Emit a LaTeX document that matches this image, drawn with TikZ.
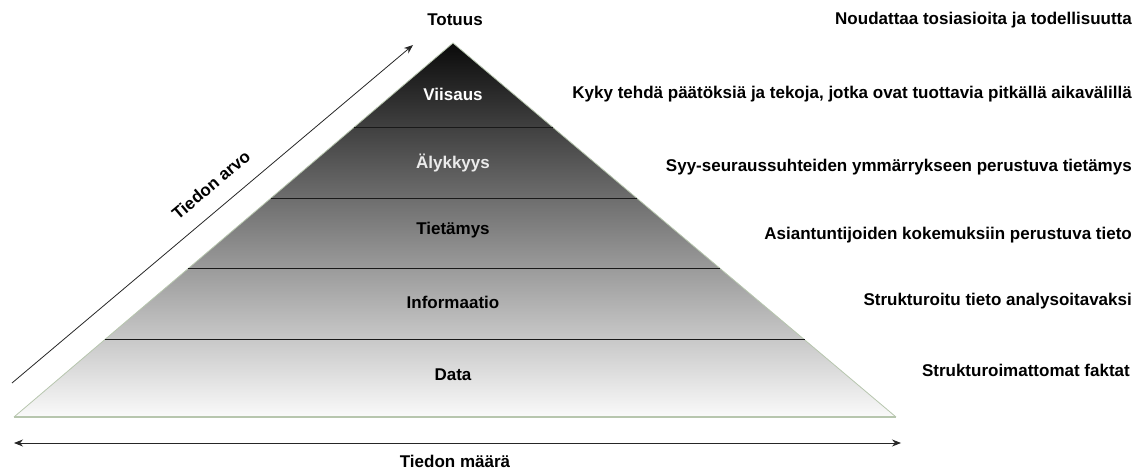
\documentclass[tikz,border=0pt]{standalone}
\usepackage{fontspec}
\setmainfont{Liberation Sans}
\usetikzlibrary{arrows.meta,calc}
\definecolor{edgegreen}{HTML}{B7C6AE}
\begin{document}
\begin{tikzpicture}[x=1pt,y=-1pt,
  lbl/.style={font=\bfseries\fontsize{17}{19}\selectfont, inner sep=0pt},
  desc/.style={lbl, anchor=east},
  axisarrow/.style={-{Stealth[length=9pt,width=7pt]}, line width=0.8pt, black!85},
  divider/.style={line width=0.9pt, black!90}]
\useasboundingbox (0,0) rectangle (1137,470);

% pyramid corners
\coordinate (apex) at (453,43);
\coordinate (bl) at (14,417);
\coordinate (br) at (896,417);

% shaded body and rim
\shade[top color=black!96, bottom color=black!2] (apex) -- (br) -- (bl) -- cycle;
\draw[edgegreen, line width=0.8pt] (bl) -- (apex) -- (br);
\draw[edgegreen, line width=2.6pt] (bl) -- (br);

% layer dividers
\foreach \t [count=\i] in {0.2252,0.4155,0.6032,0.7936}{
  \coordinate (dl\i) at ($(apex)!\t!(bl)$);
  \coordinate (dr\i) at ($(apex)!\t!(br)$);
  \draw[divider] (dl\i) -- (dr\i);
}

% layer names
\node[lbl] (totuus) at (455,20) {Totuus};
\node[lbl, white] (viisaus) at (453,94) {Viisaus};
\node[lbl, white!92!black] (alykkyys) at (453,163) {Älykkyys};
\node[lbl] (tietamys) at (453,230) {Tietämys};
\node[lbl] (informaatio) at (453,302) {Informaatio};
\node[lbl] (data) at (453,375) {Data};

% descriptions
\node[desc] (d0) at (1132,20) {Noudattaa tosiasioita ja todellisuutta};
\node[desc] (d1) at (1132,94) {Kyky tehdä päätöksiä ja tekoja, jotka ovat tuottavia pitkällä aikavälillä};
\node[desc] (d2) at (1132,167) {Syy-seuraussuhteiden ymmärrykseen perustuva tietämys};
\node[desc] (d3) at (1132,235) {Asiantuntijoiden kokemuksiin perustuva tieto};
\node[desc] (d4) at (1132,301) {Strukturoitu tieto analysoitavaksi};
\node[desc] (d5) at (1130,370) {Strukturoimattomat faktat};

% value axis
\coordinate (vstart) at (12,383);
\coordinate (vend) at (413,45);
\draw[axisarrow] (vstart) -- (vend);
\node[lbl, rotate=40] (arvo) at (211,185) {Tiedon arvo};

% amount axis
\coordinate (qleft) at (14,443);
\coordinate (qright) at (901,443);
\draw[axisarrow, {Stealth[length=9pt,width=7pt]}-{Stealth[length=9pt,width=7pt]}] (qleft) -- (qright);
\node[lbl] (maara) at (455,461) {Tiedon määrä};
\end{tikzpicture}
\end{document}
